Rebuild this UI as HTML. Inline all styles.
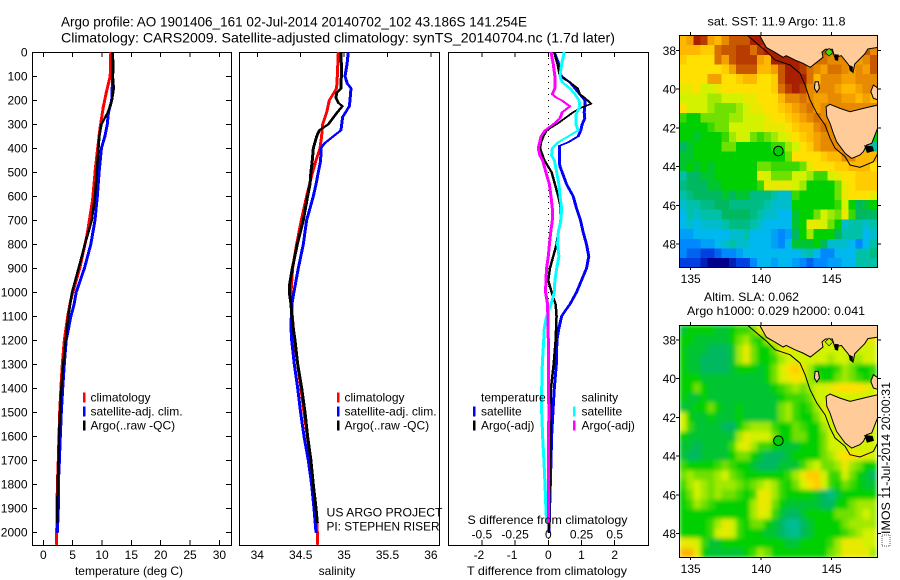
<!DOCTYPE html>
<html lang="en">
<head>
<meta charset="utf-8">
<title>Argo profile 1901406_161</title>
<style>
html,body{margin:0;padding:0;background:#fff;}
svg{display:block;font-family:"Liberation Sans",sans-serif;font-size:12px;fill:#000;}
.title{font-size:14px;}
</style>
</head>
<body>
<svg id="chart" xmlns="http://www.w3.org/2000/svg" width="900" height="580" viewBox="0 0 900 580">
  <defs>
    <clipPath id="clip-sst"><rect x="679" y="35" width="199" height="232"/></clipPath>
    <clipPath id="clip-sla"><rect x="679" y="325" width="199" height="232"/></clipPath>
    <filter id="sla-blur" x="-5%" y="-5%" width="110%" height="110%"><feGaussianBlur stdDeviation="2.2" edgeMode="duplicate"/></filter>
  </defs>
  <text class="title" x="61" y="26.5" textLength="466" lengthAdjust="spacingAndGlyphs">Argo profile: AO 1901406_161 02-Jul-2014 20140702_102 43.186S 141.254E</text>
  <text class="title" x="61" y="42.5" textLength="554" lengthAdjust="spacingAndGlyphs">Climatology: CARS2009. Satellite-adjusted climatology: synTS_20140704.nc (1.7d later)</text>

  <g id="layer-panels"></g>

  <text x="129" y="575" text-anchor="middle">temperature (deg C)</text>
  <text x="337" y="575" text-anchor="middle">salinity</text>
  <text x="467" y="575" textLength="160" lengthAdjust="spacingAndGlyphs">T difference from climatology</text>
  <text x="467.5" y="524" textLength="160" lengthAdjust="spacingAndGlyphs">S difference from climatology</text>
  <text x="326.5" y="516.5" textLength="116" lengthAdjust="spacingAndGlyphs">US ARGO PROJECT</text>
  <text x="326.5" y="530.5" textLength="113" lengthAdjust="spacingAndGlyphs">PI: STEPHEN RISER</text>

  <g id="layer-legends"></g>

  <g id="layer-sst" clip-path="url(#clip-sst)"></g>
  <g id="layer-sla" clip-path="url(#clip-sla)"></g>
  <g id="layer-map-axes"></g>

  <text x="707.5" y="25.5" textLength="138" lengthAdjust="spacingAndGlyphs">sat. SST: 11.9 Argo: 11.8</text>
  <text x="704" y="301" textLength="95" lengthAdjust="spacingAndGlyphs">Altim. SLA: 0.062</text>
  <text x="687" y="315" textLength="178" lengthAdjust="spacingAndGlyphs">Argo h1000: 0.029 h2000: 0.041</text>

  <rect x="882" y="535" width="8" height="11" fill="none" stroke="#555" stroke-width="1" stroke-dasharray="1 1"/>
  <text transform="translate(890,534) rotate(-90)" textLength="152" lengthAdjust="spacingAndGlyphs">IMOS 11-Jul-2014 20:00:31</text>
</svg>

<script>
// ---------- axis tick labels ----------
const depthTicks = [0,100,200,300,400,500,600,700,800,900,1000,1100,1200,1300,1400,1500,1600,1700,1800,1900,2000];
const tempTicks = [0,5,10,15,20,25,30];
const salTicks = [34,34.5,35,35.5,36];
const tDiffTicks = [-2,-1,0,1,2];
const sDiffTicks = [-0.5,-0.25,0,0.25,0.5];
const lonTicks = [135,140,145];
const latTicks = [38,40,42,44,46,48];

// ---------- temperature panel ----------
const climTempDepth = [0,100,160,230,320,480,615,755,895,1033,1100,1200,1300,1400,1500,1600,1700,1800,1900,2000,2050];
const climTemp = [11.5,11.4,10.8,10.2,9.65,8.9,8.4,7.5,6.25,4.67,4.15,3.58,3.24,3.0,2.8,2.67,2.56,2.4,2.33,2.28,2.28];
const satTempDepth = [0,100,200,250,300,350,400,500,600,700,800,900,1000,1050,1100,1200,1300,1400,1500,1600,1700,1800,1900,2000];
const satTemp = [11.82,11.82,11.65,11.1,10.9,10.5,9.9,9.5,9.2,8.8,8.1,7.0,5.6,5.25,4.7,3.9,3.58,3.3,3.07,2.9,2.74,2.56,2.56,2.4];
const argoTempDepth = [0,60,100,150,200,250,300,350,400,500,600,700,800,900,1000,1100,1200,1300,1400,1500,1600,1700,1800,1900,1960];
const argoTemp = [11.8,11.95,11.85,12.0,11.7,11.0,9.9,9.55,9.4,9.1,8.8,8.25,7.1,6.0,4.9,4.25,3.8,3.4,3.07,2.85,2.67,2.6,2.45,2.4,2.35];

// ---------- salinity panel ----------
const climSalDepth = [0,100,150,200,250,300,350,400,450,500,600,700,800,900,1000,1100,1200,1300,1400,1500,1600,1700,1800,1900,2000,2050];
const climSal = [34.933,34.922,34.914,34.829,34.799,34.753,34.741,34.722,34.676,34.637,34.568,34.507,34.453,34.407,34.388,34.403,34.426,34.465,34.503,34.538,34.576,34.618,34.645,34.676,34.691,34.695];
const satSalDepth = [0,50,100,130,150,200,225,270,325,350,380,400,450,500,550,600,650,700,800,900,1000,1050,1100,1150,1200,1300,1400,1500,1600,1700,1800,1900,2000];
const satSal = [35.048,35.033,35.010,35.037,35.079,35.068,35.060,34.983,34.964,34.876,34.772,34.733,34.730,34.703,34.676,34.645,34.607,34.568,34.530,34.472,34.422,34.399,34.392,34.388,34.396,34.426,34.465,34.499,34.538,34.588,34.626,34.653,34.676];
const argoSalDepth = [0,50,100,150,170,190,210,225,250,300,325,350,400,450,500,550,600,700,800,900,975,1000,1050,1100,1150,1200,1300,1400,1500,1600,1700,1800,1900,1960];
const argoSal = [34.964,34.968,34.968,34.964,34.914,34.906,34.933,34.979,34.922,34.818,34.714,34.684,34.645,34.634,34.618,34.607,34.580,34.530,34.461,34.403,34.369,34.369,34.388,34.399,34.415,34.434,34.465,34.511,34.549,34.580,34.618,34.645,34.676,34.691];

// ---------- difference panel ----------
const satTDiffDepth = [0,50,75,100,125,150,175,200,225,250,275,300,325,350,375,390,450,475,500,550,600,650,700,750,800,850,900,950,1000,1050,1075,1100,1150,1200,1300,1400,1500,1600,1700,1800,1900,2000];
const satTDiff = [0.18,0.32,0.32,0.40,0.65,0.80,0.95,1.10,1.10,1.08,1.10,1.02,0.98,0.90,0.60,0.33,0.33,0.35,0.42,0.55,0.75,0.85,0.97,1.05,1.15,1.22,1.15,1.00,0.85,0.65,0.52,0.40,0.32,0.26,0.24,0.18,0.14,0.10,0.08,0.06,0.04,0.02];
const argoTDiffDepth = [0,50,100,125,150,175,190,215,230,250,275,300,325,350,375,400,450,500,550,600,650,700,750,800,850,900,950,1000,1050,1100,1200,1300,1400,1500,1700,2000];
const argoTDiff = [0.18,0.28,0.35,0.65,0.88,0.95,1.10,1.29,1.00,0.75,0.50,0.25,-0.05,-0.15,-0.22,-0.25,-0.12,0.10,0.20,0.30,0.38,0.37,0.30,0.25,0.15,0.05,0,0.10,0.22,0.25,0.22,0.16,0.08,0.08,0.05,0.02];
const satSDiffDepth = [0,50,100,125,150,175,200,225,260,300,325,350,375,400,430,450,500,550,600,650,700,750,800,850,900,950,1000,1050,1100,1150,1200,1300,1400,1500,1600,1700,1800,1900,1960];
const satSDiff = [0.120,0.100,0.088,0.105,0.163,0.201,0.231,0.238,0.208,0.208,0.226,0.151,0.075,0.030,0.025,0.045,0.063,0.080,0.088,0.100,0.095,0.075,0.070,0.080,0.063,0.050,0.045,0.020,-0.013,-0.030,-0.035,-0.045,-0.050,-0.050,-0.043,-0.033,-0.025,-0.018,-0.013];
const argoSDiffDepth = [0,50,100,150,175,190,200,225,250,275,300,325,350,400,430,450,500,550,600,650,700,750,800,850,900,950,1000,1050,1200,1400,1500,1600,1800,1960];
const argoSDiff = [0.020,0.038,0.050,0.050,0.030,0.063,0.100,0.163,0.105,0.088,0.038,-0.025,-0.055,-0.075,-0.063,-0.043,-0.018,0.008,0.020,0.030,0.030,0.018,0.008,0,-0.013,-0.018,-0.020,-0.005,0,0,0.005,0,0.003,0];

// ---------- map grids: colour-scale level per half-degree cell, north to south ----------
const sstLevels = [
[10,10.5,13,12.5,10.5,10,11,12,12,12,13,13,12,12,12,12,12,12,12,12,12,12,12,12,12,12,12,12],
[10,10,10,9.5,9.5,11.5,12,12,12.5,12.5,11.5,12.5,13,13,12,12,12,12,12,12,12,12,12,12,12,12,12,11],
[9.5,9,9,9,9,11.5,10.5,12,12.5,12.5,12.5,10.5,10,13,13,13,13,12.5,12,11.5,11.5,11,11,11,11,10.5,11,12],
[9,9,9,9,9,9,9.5,10.5,12,12,12,10,10,10.5,12,13,13,12.5,11.5,11,10.5,11.5,11.5,11,10.5,11,10.5,12],
[9,9,9,9,10.5,10.5,9,9,9.5,10,10,9,9,9.5,12,13,13,13,11.5,10,11,11,11,10.5,10.5,11,11,11],
[8.5,8.5,9,8,8,8.5,9,9,9,9,9,9,9,9.5,11.5,12.5,13,12.5,11,11,11,11,10.5,10,10,10.5,11,11],
[8,8,8,8,7.5,7.5,8,8,8,8.5,8.5,9,9,9,10,11,11,11.5,11,10.5,10.5,11,11,10.5,10.5,10,10.5,10],
[9,8,8,8,7.5,7,7,7,7.5,8,8.5,8.5,9,9,9.5,10,10.5,11,11.5,10.5,11,11,11,11,11,11,11,11],
[6.5,6,6,7,7,7,7,7.5,7.5,8,8,8,8.5,9,9,9.5,10,10.5,11,11.5,11,11,11,11,11,11,11,11],
[6,6,6,6,6.5,7,7,8,8,8,8,8,8.5,8.5,8.5,9,9.5,10,10,11,11.5,11,11,11,11,11,11,11],
[6,6,5.5,6,6,6,6.5,7.5,8,8,7,6.5,7,7.5,8,8.5,9,9.5,10,10.5,11,11,11,11,11,11,11,6],
[5,5.5,6,6,6,6,7,7,6,6,6,6,6,6.5,6.5,7.5,8,9,9.5,10.5,11,11,11,11,11,11,7,4],
[5.5,5.5,6,6,6,6,6,6,6,6,6,6,6,6,6,7,9,9,9,9,9.5,10,10,11,11,10,10,10],
[5.5,6,5.5,6,5.5,6,6,6,6,6,6,7,7,6.5,6.5,6.5,6.5,7,8.5,9,9,9,9.5,9.5,10,10,10,9],
[4,5,5,5.5,5.5,6,6,6,6,6,6,8.5,8,7,7,7,8,8,7.5,6.5,6.5,8,8.5,9,9,9.5,9.5,9.5],
[4.5,5,5,5,5.5,5.5,6,6,6,6,6,6.5,8.5,8.5,8.5,8.5,8,7.5,6,6,6,6,7,8.5,9,9.5,9.5,9.5],
[4,4.5,5,5,5,5,5.5,5,5.5,5.5,4.5,4.5,4.5,4,3.5,3.5,6.5,6,6,6,6,6,7,8.5,9,9,9,8.5],
[3.5,4,4,4.5,4.5,5,5,4.5,4.5,4.5,4.5,4.5,4,3.5,3.5,3.5,6,6,6,6,6,6,6.5,8,6,5,5.5,6],
[3,4,3.5,4,4,4,5,5,5,5,4.5,4,3.5,3.5,3,3,5.5,6,6,7,8,7.5,7,8.5,6.5,5,5,5],
[3,3.5,3,3.5,3.5,3.5,4,4.5,4.5,4.5,4,3.5,3,3,3,3,5.5,6,8.5,8.5,8,7,6,3.5,4,4,3.5,4],
[2.5,2.5,3,3,3,3,3,3.5,3.5,4,3,3,3,2.5,2,2.5,5,6,7.5,6,6,6,5,4,4,4,3,3.5],
[2,2,2,2.5,2.5,3,3.5,4,3.5,3.5,3,3,3,2.5,2,3,5.5,5.5,5.5,6,5,3.5,3.5,3.5,3,2,3,4],
[2,1.5,1.5,1,1,1.5,2,2,2.5,3,3,3,3,3,3,3,3,3.5,4,3,2,2,3,3,3,4,4,4.5],
[1,1,1,0.5,0,0,0,0.5,1,1,2,3,3,2.5,3,3,2.5,2,1.5,2,2,2.5,2.5,3,3,4,4,4]
];
const slaLevels = [
[5.5,6,6,6,6,5.5,5.5,6,6.5,6.5,7,8.5,8.5,8,8,8,8,8,8,8,8,8,8,8,8,8,8,8],
[6,6,5.5,5.5,5.5,5.5,5.5,6,7,7.5,6.5,6,7.5,8.5,8.5,8.5,8.5,8.5,8.5,8.5,8.5,8.5,8.5,8.5,8.5,8.5,8.5,8.5],
[6,5.5,5.5,5.5,5,5,5,5.5,7.5,8.5,7,6,6,7,8.5,8.5,8,8,8,8,8,8,8,8,8,8,8,8],
[6,5.5,5.5,5,5,5,5,5.5,7.5,8.5,7,6,6,6.5,7.5,8,8,8,8,8,8,7.5,8,8,7.5,7.5,8,8],
[6,5.5,5.5,5,5,5,5,5.5,6,6,6,5.5,6,7,8,9,9.5,8.5,7.5,6,6,6,6.5,7.5,7,6,6,6.5],
[6,6,6,5.5,5.5,5.5,5.5,5.5,5.5,5.5,5.5,5.5,6,7,8,8.5,9,8.5,7.5,6.5,6,6,7,7.5,7,6.5,6,6.5],
[6,6,7,6,5.5,5.5,5.5,5.5,5.5,5.5,5.5,5.5,5.5,6,6.5,7,7.5,7,7.5,8,8,8.5,9,9,9,9,8.5,8],
[6,5.5,5.5,6,5.5,5.5,5.5,5.5,5.5,5.5,5.5,5.5,5.5,5.5,6,6.5,6.5,6.5,7,8,8,8,8,8,8,8,8,8],
[5.5,5.5,6,6,7,6,5.5,5.5,6,5.5,5.5,5.5,5.5,5.5,7,7.5,6.5,6,6.5,7.5,8.5,8,8,8,8,8,8,8],
[8,6,5.5,5.5,6,5.5,5.5,5.5,6,5.5,5.5,5.5,5.5,5.5,7,7.5,6.5,6,6,7,8,8,8,8,8,8,8,8],
[8,6.5,5.5,5.5,5.5,5.5,5,5,6,7,7.5,7.5,7.5,6.5,6,6,7,6.5,6,6,7.5,8,8,8,8,8,8,8],
[6,5.5,5.5,5.5,5.5,5.5,5.5,5.5,7.5,8.5,8,8,8,7,6,6,7,7,6,6,7,8,8,8,8,8,8,8],
[5.5,5.5,5,5.5,5.5,5.5,5.5,6.5,8,8.5,7.5,6.5,6.5,6,5.5,5.5,5.5,6,6,6,7,8,8,8,8,8,8,8],
[5.5,5,5,5.5,5.5,5.5,5.5,6,7,7,6,5.5,5,5,5,5.5,6,6,6,6,7,7.5,8.5,9,9,8.5,8.5,8],
[6.5,6,6,6,6,6.5,7,6.5,6,6,5.5,5,5,5,5.5,5.5,5.5,6.5,7.5,8,7,7,7.5,8.5,7.5,7,6,6],
[7,7.5,7,7,7,7.5,8,7,6.5,6,6,6,6,6,6,6.5,7.5,8.5,9.5,9.5,8,6.5,6.5,8,7,6,5.5,5],
[6.5,7.5,8,7.5,7,7.5,7.5,7.5,7,6.5,7,7.5,8,7.5,6.5,6,7,8,9,9.5,8,6.5,6,7,6.5,6,5.5,5.5],
[6,7,8,7.5,7,7.5,7,7,6.5,6,6.5,8.5,8.5,7.5,6.5,6,6,6,6,5.5,5,4.5,5.5,6,6,6,6,6],
[6,6.5,7.5,7,6.5,6,6,6,6,6,7.5,8.5,8.5,7,6,5.5,5.5,5.5,5.5,5.5,5,5,6,6,7,7.5,7.5,7.5],
[6,6,6,6,6,6,6,6,6,6,7.5,8.5,8,6.5,5.5,5,5,5.5,6,6,6,6,7,7,7,7.5,8,7.5],
[6,6,6,6,6.5,7.5,8.5,8,6.5,6,7,7,6,5.5,5,4.3,4.2,5,5.5,6,6,6,6,7,7.5,7.5,7.5,7.5],
[6,6,6,6,6.5,8,8.5,8,6.5,6,6,6,5.5,5.5,5,4.5,4.3,5,5.5,6,6,6,6,6.5,7,7.5,8,8],
[8.5,8.5,8,6.5,5.5,5.5,6,6,6,6,6,6,6,6,6,5.5,5.5,6,6,6,6,6.5,7.5,8.5,8.5,8.5,8,8],
[10,10,8.5,6,5.5,5.5,5.5,5.5,5.5,6,6.5,7.5,7,6,6,6,6,6,6,6,6,7,7.5,8.5,8.5,8.5,8.5,7.5]
];
const cellLon0 = 134.2;
const cellLat0 = 37.23;
const cellDeg = 0.5;

// ---------- geography, [lon, lat] ----------
const mainlandCoast = [[139.89,37.23],[140.36,37.85],[140.96,38.10],[141.55,38.36],[141.78,38.28],[142.38,38.50],[142.96,38.67],[143.48,38.88],[144.03,38.57],[144.38,38.36],[144.31,38.10],[144.55,37.95],[145.05,37.95],[145.21,38.36],[145.68,38.28],[146.16,38.71],[146.51,39.14],[146.63,38.71],[147.34,38.19],[147.57,37.93],[148.30,37.85],[148.30,37.2],[139.89,37.2]];
const tasmaniaCoast = [[144.6,40.91],[144.88,40.79],[145.59,41.0],[146.30,41.17],[147.25,41.0],[148.30,40.82],[148.30,41.94],[148.07,42.37],[147.84,42.80],[147.48,42.89],[147.25,43.23],[147.01,43.40],[146.42,43.58],[145.95,43.32],[145.35,42.72],[145.12,42.29],[144.88,41.77],[144.65,41.42]];
const kingIslandCoast = [[143.82,39.62],[144.05,39.62],[144.13,39.96],[143.94,40.17],[143.77,39.96]];
const flindersCoast = [[147.96,39.79],[148.30,39.96],[148.30,40.56],[147.96,40.48],[147.77,40.13]];
const portPhillipBay = [[144.53,38.10],[144.81,37.90],[145.09,38.10],[144.81,38.30]];
const westernPortInlet = [[145.21,38.20],[145.50,38.22],[145.45,38.55],[145.22,38.50]];
const corangamiteInlet = [[146.20,38.75],[146.50,38.85],[146.48,39.15],[146.28,39.05]];
const stormBayInlet = [[147.30,42.90],[147.90,42.95],[148.00,43.20],[147.50,43.30]];
const shelfContour = [[139.02,37.23],[139.68,37.64],[140.39,38.07],[140.98,38.5],[142.04,38.76],[142.75,39.19],[143.11,39.79],[143.46,40.56],[143.94,41.25],[144.53,41.86],[144.88,42.54],[145.24,43.06],[145.95,43.49],[146.30,43.92],[147.01,44.04],[147.96,43.75],[148.26,43.32]];
const floatLon = 141.22;
const floatLat = 43.2;

// ---------- axis functions ----------
const NS = 'http://www.w3.org/2000/svg';
const panelTop = 52, panelBottom = 545;
const yDepth = z => 52.3 + 0.24 * z;
const xTemp = t => 43.3 + 5.87 * t;
const xSal = s => 257.3 + 86.8 * (s - 34);
const xTDiff = d => 548.3 + 33.2 * d;
const xSDiff = d => 548.3 + 132.8 * d;
const xLon = lon => 690.7 + 14.1 * (lon - 135);
const yLatSst = lat => 50.3 + 19.37 * (lat - 38);
const yLatSla = lat => 340 + 19.37 * (lat - 38);

const PALETTE = [[0,0,140],[0,64,224],[0,136,255],[0,184,240],[0,192,168],[0,184,96],[0,208,0],[112,224,0],[210,242,0],[255,224,0],[255,184,0],[232,138,0],[200,88,0],[168,32,0]];
function levelColor(v){
  const a = Math.max(0, Math.min(PALETTE.length - 1, v));
  const i = Math.min(PALETTE.length - 2, Math.floor(a));
  const f = a - i;
  const c = PALETTE[i].map((p, k) => Math.round(p + (PALETTE[i + 1][k] - p) * f));
  return 'rgb(' + c.join(',') + ')';
}
function svgEl(tag, attrs, parent){
  const el = document.createElementNS(NS, tag);
  for (const k in attrs) el.setAttribute(k, attrs[k]);
  parent.appendChild(el);
  return el;
}

// ---------- profile panels ----------
const panels = document.getElementById('layer-panels');
function drawFrame(name, x0, x1){
  const el = svgEl('rect', {x: x0 + 0.5, y: panelTop + 0.5, width: x1 - x0, height: panelBottom - panelTop, fill: 'none', stroke: '#000', 'stroke-width': 1, 'shape-rendering': 'crispEdges'}, panels);
  
  
}
function drawXTick(name, x, top, bottom){
  if (top) {
    const t = svgEl('line', {x1: x, x2: x, y1: panelTop, y2: panelTop + 5, stroke: '#000', 'shape-rendering': 'crispEdges'}, panels);
    
    
  }
  if (bottom) {
    const b = svgEl('line', {x1: x, x2: x, y1: panelBottom, y2: panelBottom - 5, stroke: '#000', 'shape-rendering': 'crispEdges'}, panels);
    
    
  }
}
function drawLabel(name, x, y, str, anchor){
  const el = svgEl('text', {x: x, y: y, 'text-anchor': anchor}, panels);
  el.textContent = str;
  
  
}
// The original pen is wide horizontally: sloped segments come out thinner than vertical ones.
function drawSeries(name, depths, values, xFn, color, width){
  const half = (width - 1) / 2;
  const left = values.map((v, i) => (xFn(v) - half).toFixed(1) + ',' + yDepth(depths[i]).toFixed(1));
  const right = values.map((v, i) => (xFn(v) + half).toFixed(1) + ',' + yDepth(depths[i]).toFixed(1)).reverse();
  const el = svgEl('polygon', {points: left.concat(right).join(' '), fill: color, stroke: color, 'stroke-width': 1, 'stroke-linejoin': 'round', 'shape-rendering': 'crispEdges'}, panels);
  
  
}

drawFrame('temperature-panel-frame', 32, 231);
drawFrame('salinity-panel-frame', 239, 439);
drawFrame('difference-panel-frame', 448, 648);

depthTicks.forEach(z => {
  const y = yDepth(z);
  const l = svgEl('line', {x1: 32, x2: 37, y1: y, y2: y, stroke: '#000', 'shape-rendering': 'crispEdges'}, panels);
  
  
  const r = svgEl('line', {x1: 231, x2: 226, y1: y, y2: y, stroke: '#000', 'shape-rendering': 'crispEdges'}, panels);
  
  
  drawLabel('depth-label-' + z, 27.5, y + 4, String(z), 'end');
});
tempTicks.forEach(t => {
  drawXTick('temperature-tick-' + t, xTemp(t), true, true);
  drawLabel('temperature-label-' + t, xTemp(t), 559, String(t), 'middle');
});
salTicks.forEach(s => {
  drawXTick('salinity-tick-' + s, xSal(s), true, false);
  drawLabel('salinity-label-' + s, xSal(s), 559, String(s), 'middle');
});
tDiffTicks.forEach(d => {
  drawXTick('t-diff-tick-' + d, xTDiff(d), true, true);
  drawLabel('t-diff-label-' + d, xTDiff(d) - (d < 0 ? 3 : 0), 559, String(d), 'middle');
});
sDiffTicks.forEach(d => {
  drawLabel('s-diff-label-' + d, xSDiff(d), 538.5, String(d), 'middle');
});

const zeroLine = svgEl('line', {x1: xTDiff(0), x2: xTDiff(0), y1: panelTop, y2: panelBottom, stroke: '#000', 'stroke-width': 1, 'stroke-dasharray': '1 5', 'shape-rendering': 'crispEdges'}, panels);



drawSeries('temperature-climatology-line', climTempDepth, climTemp, xTemp, '#ff0000', 3);
drawSeries('temperature-satellite-line', satTempDepth, satTemp, xTemp, '#0000ff', 3);
drawSeries('temperature-argo-line', argoTempDepth, argoTemp, xTemp, '#000000', 2.5);
drawSeries('salinity-climatology-line', climSalDepth, climSal, xSal, '#ff0000', 3);
drawSeries('salinity-satellite-line', satSalDepth, satSal, xSal, '#0000ff', 3);
drawSeries('salinity-argo-line', argoSalDepth, argoSal, xSal, '#000000', 3);
drawSeries('t-difference-satellite-line', satTDiffDepth, satTDiff, xTDiff, '#0000ff', 3);
drawSeries('t-difference-argo-line', argoTDiffDepth, argoTDiff, xTDiff, '#000000', 2.5);
drawSeries('s-difference-satellite-line', satSDiffDepth, satSDiff, xSDiff, '#00ffff', 3);
drawSeries('s-difference-argo-line', argoSDiffDepth, argoSDiff, xSDiff, '#ff00ff', 3);

// ---------- legends ----------
const legends = document.getElementById('layer-legends');
function legendEntry(name, markX, textX, row, color, label){
  const base = [401.5, 415.7, 429.7][row];
  if (color) {
    const m = svgEl('rect', {x: markX - 1, y: base - 9, width: 2.5, height: 10, fill: color, 'shape-rendering': 'crispEdges'}, legends);
    
    
  }
  const t = svgEl('text', {x: textX, y: base}, legends);
  t.textContent = label;
  
  
}
legendEntry('temp-legend-climatology', 84, 90.5, 0, '#ff0000', 'climatology');
legendEntry('temp-legend-satellite', 84, 90.5, 1, '#0000ff', 'satellite-adj. clim.');
legendEntry('temp-legend-argo', 84, 90.5, 2, '#000000', 'Argo(..raw -QC)');
legendEntry('sal-legend-climatology', 338, 344.5, 0, '#ff0000', 'climatology');
legendEntry('sal-legend-satellite', 338, 344.5, 1, '#0000ff', 'satellite-adj. clim.');
legendEntry('sal-legend-argo', 338, 344.5, 2, '#000000', 'Argo(..raw -QC)');
legendEntry('diff-legend-temperature-heading', 0, 481, 0, null, 'temperature');
legendEntry('diff-legend-t-satellite', 474, 481, 1, '#0000ff', 'satellite');
legendEntry('diff-legend-t-argo', 474, 481, 2, '#000000', 'Argo(-adj)');
legendEntry('diff-legend-salinity-heading', 0, 581.5, 0, null, 'salinity');
legendEntry('diff-legend-s-satellite', 574, 581.5, 1, '#00ffff', 'satellite');
legendEntry('diff-legend-s-argo', 574, 581.5, 2, '#ff00ff', 'Argo(-adj)');

// ---------- maps ----------
function drawCells(parent, grid, yLat, prefix){
  grid.forEach((row, j) => {
    row.forEach((v, i) => {
      const lonA = cellLon0 + i * cellDeg, latA = cellLat0 + j * cellDeg;
      const x = xLon(lonA), y = yLat(latA);
      const c = svgEl('rect', {x: x.toFixed(2), y: y.toFixed(2), width: (14.1 * cellDeg + 0.4).toFixed(2), height: (19.37 * cellDeg + 0.4).toFixed(2), fill: levelColor(v), 'shape-rendering': 'crispEdges'}, parent);
      
      
    });
  });
}
function geoPoints(coords, yLat){
  return coords.map(p => xLon(p[0]).toFixed(1) + ',' + yLat(p[1]).toFixed(1)).join(' ');
}
function drawGeography(parent, yLat, prefix, bayColor){
  [['mainland', mainlandCoast], ['tasmania', tasmaniaCoast], ['king-island', kingIslandCoast], ['flinders-island', flindersCoast]].forEach(item => {
    const p = svgEl('polygon', {points: geoPoints(item[1], yLat), fill: '#ffcc99', stroke: '#000', 'stroke-width': 1}, parent);
    
    
  });
  [['western-port', westernPortInlet], ['corner-inlet', corangamiteInlet], ['storm-bay', stormBayInlet]].forEach(item => {
    const p = svgEl('polygon', {points: geoPoints(item[1], yLat), fill: '#000'}, parent);
    
    
  });
  const bay = svgEl('polygon', {points: geoPoints(portPhillipBay, yLat), fill: bayColor, stroke: '#000', 'stroke-width': 0.6}, parent);
  
  
  const shelf = svgEl('polyline', {points: geoPoints(shelfContour, yLat), fill: 'none', stroke: '#000', 'stroke-width': 1}, parent);
  
  
  const dot = svgEl('circle', {cx: xLon(floatLon), cy: yLat(floatLat), r: 4.8, fill: '#00d000', stroke: '#000', 'stroke-width': 1}, parent);
  
  
}
const sstLayer = document.getElementById('layer-sst');
drawCells(sstLayer, sstLevels, yLatSst, 'sst');
drawGeography(sstLayer, yLatSst, 'sst', '#40e000');

const slaLayer = document.getElementById('layer-sla');
const slaCells = svgEl('g', {filter: 'url(#sla-blur)'}, slaLayer);


drawCells(slaCells, slaLevels, yLatSla, 'sla');
drawGeography(slaLayer, yLatSla, 'sla', '#c0f000');

const mapAxes = document.getElementById('layer-map-axes');
function drawMapAxes(prefix, top, bottom, yLat, labelBase){
  const fr = svgEl('rect', {x: 679.5, y: top + 0.5, width: 198, height: bottom - top, fill: 'none', stroke: '#000', 'stroke-width': 1, 'shape-rendering': 'crispEdges'}, mapAxes);
  
  
  lonTicks.forEach(lon => {
    const x = xLon(lon);
    const a = svgEl('line', {x1: x, x2: x, y1: top, y2: top - 3, stroke: '#000', 'shape-rendering': 'crispEdges'}, mapAxes);
    
    
    const b = svgEl('line', {x1: x, x2: x, y1: bottom, y2: bottom + 3, stroke: '#000', 'shape-rendering': 'crispEdges'}, mapAxes);
    
    
    const t = svgEl('text', {x: x, y: labelBase, 'text-anchor': 'middle'}, mapAxes);
    t.textContent = String(lon);
    
    
  });
  latTicks.forEach(lat => {
    const y = yLat(lat);
    const a = svgEl('line', {x1: 679, x2: 676, y1: y, y2: y, stroke: '#000', 'shape-rendering': 'crispEdges'}, mapAxes);
    
    
    const b = svgEl('line', {x1: 878, x2: 881, y1: y, y2: y, stroke: '#000', 'shape-rendering': 'crispEdges'}, mapAxes);
    
    
    const t = svgEl('text', {x: 676, y: y + 4.5, 'text-anchor': 'end'}, mapAxes);
    t.textContent = String(lat);
    
    
  });
}
drawMapAxes('sst', 35, 267, yLatSst, 283);
drawMapAxes('sla', 325, 557, yLatSla, 573);
</script>
</body>
</html>
